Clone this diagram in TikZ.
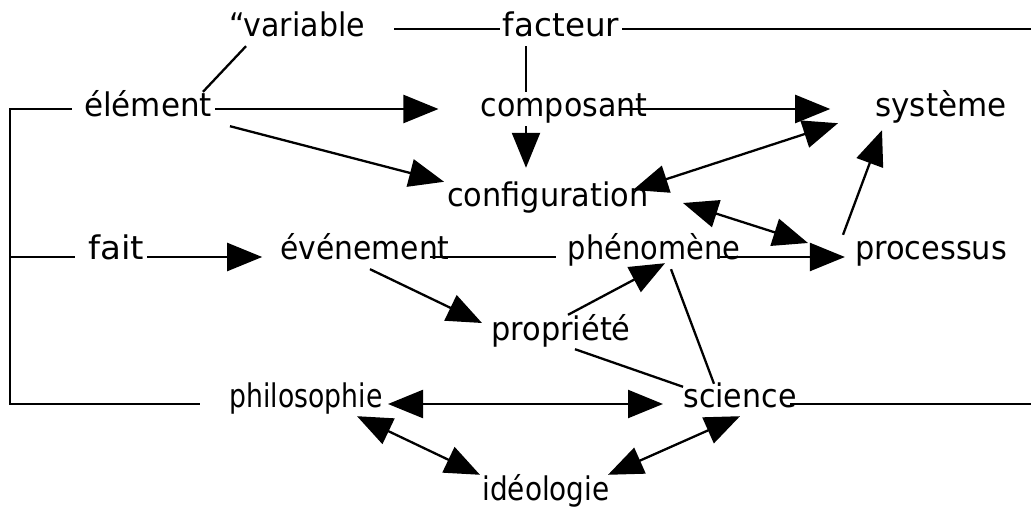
\documentclass[tikz,border=0pt]{standalone}
\usepackage{fontspec}
\usepackage{graphicx}
\setmainfont{DejaVu Sans}
\usetikzlibrary{arrows.meta}

\tikzset{
  lbl/.style={font=\fontsize{31}{36}\selectfont, text height=22pt, text depth=6pt, inner sep=3pt, anchor=base},
  link/.style={line width=2.3pt},
  arr/.style={link, -{Triangle[length=35pt,width=28pt]}},
  darr/.style={link, {Triangle[length=35pt,width=28pt]}-{Triangle[length=35pt,width=28pt]}}
}
\newcommand{\narrowtext}[2]{\scalebox{#1}[1.05]{#2}}

\begin{document}
\begin{tikzpicture}[x=1pt, y=-1pt]
\useasboundingbox (0,0) rectangle (1031,513);

% Words
\node[lbl] (var) at (297,37) {\narrowtext{0.97}{“variable}};
\node[lbl] (fac) at (561,37) {\narrowtext{1.05}{facteur}};
\node[lbl] (elem) at (148,117) {\narrowtext{1}{élément}};
\node[lbl] (comp) at (564,117) {\narrowtext{0.97}{composant}};
\node[lbl] (sys) at (941,117) {\narrowtext{1}{système}};
\node[lbl] (conf) at (548,207) {\narrowtext{0.98}{configuration}};
\node[lbl] (fait) at (116,260) {\narrowtext{1.1}{fait}};
\node[lbl] (even) at (365,260) {\narrowtext{0.96}{événement}};
\node[lbl] (phen) at (654,260) {\narrowtext{0.93}{phénomène}};
\node[lbl] (proc) at (931,260) {\narrowtext{0.98}{processus}};
\node[lbl] (prop) at (561,340) {\narrowtext{0.98}{propriété}};
\node[lbl] (phil) at (306,407) {\narrowtext{0.86}{philosophie}};
\node[lbl] (sci) at (740,407) {\narrowtext{0.97}{science}};
\node[lbl] (ideo) at (546,500) {\narrowtext{0.9}{idéologie}};

% Free ends
\coordinate (rtTop) at (1031,29);
\coordinate (rtBot) at (1031,404);
\coordinate (brkM) at (10,257);
\coordinate (brkB) at (10,404);
\coordinate (philL) at (200,404);

% Plain lines
\draw[link, shorten <=26pt] (var) -- (fac);
\draw[link] (fac) -- (rtTop);
\draw[link] ([xshift=-35pt]fac.south) -- ([xshift=-38pt]comp.north);
\draw[link] ([xshift=-51pt]var.south) -- ([xshift=55pt]elem.north);
\draw[link, shorten >=9pt] ([xshift=65pt,yshift=-5pt]even.center) -- ([yshift=-5pt]phen.west);
\draw[link] ([xshift=14pt]prop.south) -- ([xshift=-57pt,yshift=-5pt]sci.north);
\draw[link] ([xshift=17pt]phen.south) -- ([xshift=-26pt,yshift=-2pt]sci.north);
\draw[link] ([xshift=50pt,yshift=-5pt]sci.center) -- (rtBot);

% Bracket on the left
\draw[link] ([xshift=-9pt]elem.west) -| (brkB) -- (philL);
\draw[link] ([xshift=-10pt,yshift=-5pt]fait.west) -- (brkM);

% Arrows
\draw[arr, shorten >=39pt] (elem) -- (comp);
\draw[arr] ([xshift=82pt]elem.south) -- (conf.north west);
\draw[arr] ([xshift=-38pt]comp.south) -- ([xshift=-22pt,yshift=14pt]conf.north);
\draw[arr, shorten >=42pt] ([xshift=56pt]comp.center) -- (sys.west);
\draw[arr] ([xshift=-88pt]proc.north) -- ([xshift=-59pt,yshift=-4pt]sys.south);
\draw[arr, shorten >=15pt] ([yshift=-5pt]fait.east) -- ([yshift=-5pt]even.west);
\draw[arr, shorten >=7pt] ([xshift=66pt,yshift=-5pt]phen.center) -- ([yshift=-5pt]proc.west);
\draw[arr] ([xshift=5pt]even.south) -- ([xshift=-79pt,yshift=9pt]prop.center);
\draw[arr] ([xshift=7pt]prop.north) -- ([xshift=11pt,yshift=6pt]phen.south);

% Double arrows
\draw[darr] ([xshift=85pt,yshift=9pt]conf.center) -- ([xshift=-103pt,yshift=3pt]sys.south);
\draw[darr] ([xshift=135pt,yshift=-4pt]conf.center) -- ([xshift=-123pt,yshift=9pt]proc.center);
\draw[darr] ([xshift=82pt,yshift=-5pt]phil.center) -- ([xshift=-77pt,yshift=-5pt]sci.center);
\draw[darr] ([xshift=51pt]phil.south) -- ([xshift=-66pt]ideo.north);
\draw[darr] (sci.south) -- ([xshift=62pt]ideo.north);
\end{tikzpicture}
\end{document}
